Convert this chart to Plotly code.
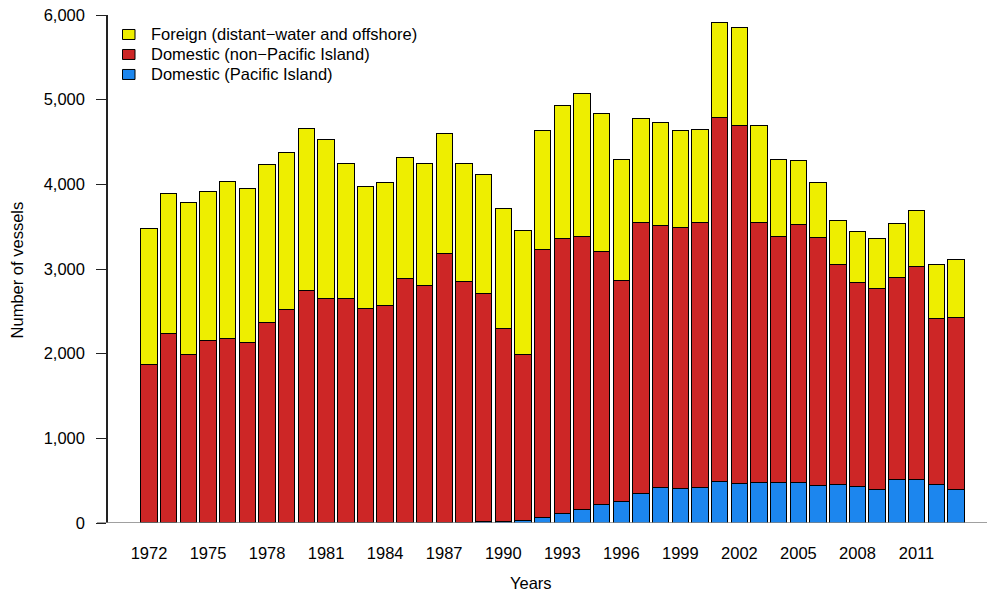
import plotly.graph_objects as go

years = list(range(1972, 2014))

domestic_pacific = [3, 4, 3, 4, 5, 4, 5, 5, 4, 5, 6, 5, 6, 5, 6, 7, 8,
                    12, 20, 32, 63, 114, 157, 220, 259, 350, 421, 405, 425,
                    488, 466, 482, 478, 478, 438, 458, 434, 401, 511, 519, 450, 401]

domestic_non_pacific = [1864, 2236, 1990, 2150, 2180, 2127, 2362, 2511, 2748, 2648,
                        2644, 2534, 2568, 2880, 2799, 3181, 2846, 2700, 2283, 1961,
                        3172, 3243, 3231, 2988, 2603, 3196, 3089, 3082, 3125, 4296,
                        4227, 3066, 2904, 3046, 2936, 2595, 2408, 2372, 2391, 2514,
                        1965, 2022]

foreign = [1608, 1650, 1787, 1761, 1845, 1824, 1873, 1864, 1913, 1872,
           1595, 1436, 1446, 1435, 1445, 1417, 1396, 1400, 1412, 1458,
           1399, 1576, 1687, 1623, 1430, 1234, 1223, 1151, 1092, 1124,
           1154, 1145, 914, 763, 645, 524, 605, 593, 630, 662,
           642, 687]

x_tick_years = list(range(1972, 2012, 3))
y_ticks = [0, 1000, 2000, 3000, 4000, 5000, 6000]

series = [
    ("Domestic (Pacific Island)", domestic_pacific, "#1C86EE"),
    ("Domestic (non\u2212Pacific Island)", domestic_non_pacific, "#CD2626"),
    ("Foreign (distant\u2212water and offshore)", foreign, "#EEEE00"),
]

FONT = "Liberation Sans, Arial, Helvetica, sans-serif"
FS = 16.5

fig = go.Figure()
for name, vals, col in series:
    fig.add_trace(go.Bar(
        x=years, y=vals, name=name, width=0.833, showlegend=False,
        marker=dict(color=col, line=dict(color="black", width=1)),
    ))

L, R, T, B = 108, 987, 14.5, 522.7
W, H = 987, 593
pw = R - L
ph = B - T
px_per_year = 19.68
x0 = 1972 - (149 - L) / px_per_year
x1 = x0 + pw / px_per_year

def px(p):
    return (p - L) / pw

def py(p):
    return (B - p) / ph

shapes = [
    dict(type="line", xref="paper", yref="y",
         x0=px(97), x1=1, y0=0, y1=0,
         line=dict(color="#808080", width=1.5), layer="above"),
]
annotations = [
    dict(text="Years", xref="paper", yref="paper",
         x=px(531), y=py(583), xanchor="center", yanchor="middle",
         showarrow=False, font=dict(size=FS, family=FONT)),
    dict(text="Number of vessels", xref="paper", yref="paper",
         x=px(17), y=py(270), xanchor="center", yanchor="middle",
         textangle=-90, showarrow=False, font=dict(size=FS, family=FONT)),
]

# legend (top-left, R-style: small bordered squares + labels)
legend_rows = list(reversed(series))
for i, (name, _, col) in enumerate(legend_rows):
    cy = 34 + 20 * i
    shapes.append(dict(type="rect", xref="paper", yref="paper",
                       x0=px(122.5), x1=px(135), y0=py(cy - 5), y1=py(cy + 5),
                       fillcolor=col, line=dict(color="black", width=1),
                       layer="above"))
    annotations.append(dict(text=name, xref="paper", yref="paper",
                            x=px(148.5), y=py(cy), xanchor="left", yanchor="middle",
                            showarrow=False, font=dict(size=FS, family=FONT)))

fig.update_layout(
    width=W, height=H,
    margin=dict(l=L, r=W - R, t=T, b=H - B, pad=0),
    barmode="stack",
    plot_bgcolor="white", paper_bgcolor="white",
    font=dict(family=FONT, size=FS, color="black"),
    showlegend=False,
    xaxis=dict(
        range=[x0, x1], tickmode="array", tickvals=x_tick_years,
        ticktext=[str(y) for y in x_tick_years],
        showgrid=False, zeroline=False, showline=False, automargin=False,
        ticks="outside", ticklen=15, tickcolor="rgba(0,0,0,0)",
        tickfont=dict(size=FS, family=FONT),
    ),
    yaxis=dict(
        range=[0, 6000], tickmode="array", tickvals=y_ticks,
        tickformat=",", showgrid=False, zeroline=False, automargin=False,
        showline=True, linecolor="#222222", linewidth=1.5,
        ticks="outside", ticklen=10, tickcolor="#222222", tickwidth=1,
        ticklabelstandoff=8, ticklabeloverflow="allow",
        tickfont=dict(size=FS, family=FONT),
    ),
    shapes=shapes,
    annotations=annotations,
)

# remove the browser's default 8px body margin so the figure fills the window
fig.write_html("out.html",
               config={"displayModeBar": False},
               post_script="document.body.style.margin='0';"
                           "document.body.style.overflow='hidden';")
